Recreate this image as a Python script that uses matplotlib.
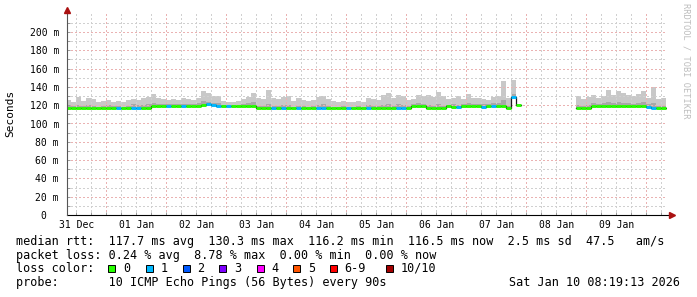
import numpy as np
import matplotlib
matplotlib.use('Agg')
import matplotlib.pyplot as plt
from matplotlib.patches import Rectangle
from matplotlib.transforms import blended_transform_factory

nan = np.nan

# ---------------- data (2-hour bins starting 31 Dec 08:00) ----------------
start_hour = 8          # hours after 31 Dec 00:00
bin_hours = 2

median_ms = [
    # 0-16
    116.6, 116.7, 116.6, 116.5, 116.6, 116.6, 116.4, 116.5, 116.6, 116.7,
    116.6, 116.5, 116.6, 116.8, 116.7, 116.6, 116.7,
    # 17-37
    119.5, 119.6, 119.5, 119.4, 119.5, 119.6, 119.5, 119.5, 119.4, 119.6,
    120.5, 121.5, 120.2, 119.6, 119.5, 119.5, 119.4, 119.5, 119.4, 119.6, 119.5,
    # 38-68
    116.6, 116.5, 116.7, 116.6, 116.5, 116.6, 116.7, 116.5, 116.6, 116.5,
    116.4, 116.5, 116.6, 116.9, 116.5, 116.4, 116.5, 116.6, 116.7, 116.5,
    116.4, 116.5, 116.6, 116.5, 116.7, 116.6, 116.5, 116.6, 117.0, 116.8, 116.6,
    # 69-90
    119.4, 119.5, 119.3, 116.7, 116.6, 116.5, 116.7, 118.6, 118.5, 117.5,
    119.0, 119.2, 119.1, 119.0, 118.4, 119.4, 119.5, 119.6, 119.5, 116.8,
    129.5, 120.2,
    # 91-101 (no data)
    nan, nan, nan, nan, nan, nan, nan, nan, nan, nan, nan,
    # 102-119
    116.5, 116.6, 116.7, 119.4, 119.5, 119.4, 119.5, 119.6, 119.5, 119.4,
    119.5, 119.5, 119.4, 119.3, 118.3, 116.9, 116.5, 116.4,
]

smoke_mid_ms = [
    119.5, 119.0, 120.5, 119.0, 120.0, 119.5, 118.5, 119.0, 120.0, 119.0,
    119.5, 118.5, 119.5, 121.0, 120.0, 120.5, 121.0,
    122.5, 121.5, 121.0, 121.0, 121.5, 121.0, 121.5, 121.0, 121.0, 122.0,
    124.5, 124.0, 122.5,
    122.0, 120.5, 119.5, 119.0, 119.5, 121.5, 122.0, 123.5, 119.5, 119.0,
    121.0, 119.5, 119.0, 120.0, 120.5, 118.5, 119.5, 119.0, 118.5, 119.0,
    120.0, 121.0, 119.5, 118.5, 118.5, 119.0, 118.5, 118.5, 119.0, 118.5,
    120.0, 119.5, 119.0, 120.5, 121.0, 119.5, 121.0, 120.5, 119.0, 121.5,
    122.0, 121.5, 120.0, 119.5, 121.0, 119.5, 120.5, 121.0, 120.0, 121.5,
    122.0, 121.5, 121.0, 121.0, 121.5, 122.5, 122.0, 126.0, 119.5, 132.0,
    121.5,
    nan, nan, nan, nan, nan, nan, nan, nan, nan, nan, nan,
    120.0, 119.0, 120.0, 122.0, 121.5, 122.0, 124.0, 122.0, 123.0, 122.5,
    122.0, 121.5, 122.5, 123.0, 121.0, 122.0, 119.0, 119.0,
]

smoke_max_ms = [
    126, 124, 129, 125, 128, 127, 123, 125, 126, 124,
    125, 123, 126, 127, 126, 128, 129,
    132, 128, 127, 126, 127, 126, 128, 127, 126, 128,
    135, 133, 130,
    130, 125, 124, 123, 125, 127, 129, 133, 128, 127,
    137, 128, 127, 129, 130, 125, 128, 126, 125, 126,
    129, 130, 127, 125, 124, 125, 123, 124, 125, 124,
    128, 127, 126, 131, 133, 128, 131, 130, 126, 127,
    131, 130, 131, 129, 134, 130, 127, 128, 130, 127,
    132, 128, 128, 127, 126, 129, 130, 146, 128, 147,
    126,
    nan, nan, nan, nan, nan, nan, nan, nan, nan, nan, nan,
    130, 127, 129, 131, 128, 130, 137, 131, 135, 133,
    131, 130, 132, 135, 128, 140, 127, 128,
]

# average lost pings (of 10) per bin
loss_pings = [
    0, 0, 0, 0, 0, 0, 0, 0, 0, 0,
    0.6, 0, 0, 0.7, 0.8, 0, 0,
    0, 0, 0, 0.5, 0, 0, 0.6, 0, 0, 0,
    0, 0.8, 0.6,
    0.5, 0, 0.6, 0, 0, 0, 0, 0, 0, 0,
    0, 0.6, 0, 0.7, 0, 0, 0.5, 0, 0, 0,
    0.6, 0.8, 0, 0, 0, 0, 0.5, 0, 0, 0,
    0.6, 0, 0, 0, 0, 0, 0.7, 0.8, 0, 0,
    0, 0, 0, 0, 0, 0, 0, 0, 0.5, 0,
    0, 0, 0, 0.6, 0, 0.5, 0, 0, 0, 0.9,
    0,
    0, 0, 0, 0, 0, 0, 0, 0, 0, 0, 0,
    0, 0, 0, 0, 0, 0, 0, 0, 0, 0,
    0, 0, 0, 0, 0.7, 0.6, 0, 0,
]

day_labels = ['31 Dec', '01 Jan', '02 Jan', '03 Jan', '04 Jan',
              '05 Jan', '06 Jan', '07 Jan', '08 Jan', '09 Jan']
y_tick_values = [0, 20, 40, 60, 80, 100, 120, 140, 160, 180, 200]
y_tick_labels = ['0  ', '20 m', '40 m', '60 m', '80 m', '100 m', '120 m',
                 '140 m', '160 m', '180 m', '200 m']

loss_legend_labels = ['0', '1', '2', '3', '4', '5', '6-9', '10/10']
loss_legend_colors = ['#26ff00', '#00b8ff', '#0059ff', '#7e00ff',
                      '#ff00ff', '#ff5500', '#ff0000', '#a10000']

stats_rtt = 'median rtt:  117.7 ms avg  130.3 ms max  116.2 ms min  116.5 ms now  2.5 ms sd  47.5   am/s'
stats_loss = 'packet loss: 0.24 % avg  8.78 % max  0.00 % min  0.00 % now'
probe_text = 'probe:       10 ICMP Echo Pings (56 Bytes) every 90s'
date_text = 'Sat Jan 10 08:19:13 2026'

# ---------------- figure ----------------
plt.rcParams['font.family'] = ['DejaVu Sans Mono']
W, H = 697, 297
fig = plt.figure(figsize=(W / 100, H / 100), dpi=100, facecolor='white')

ax_l, ax_r, ax_b, ax_t = 67, 667, 215, 13
ax = fig.add_axes([ax_l / W, 1 - ax_b / H, (ax_r - ax_l) / W, (ax_b - ax_t) / H])
ax.set_facecolor('white')

x_min, x_max = 8.32, 248.32
y_min, y_max = 0, (ax_b - ax_t) / 0.915
ax.set_xlim(x_min, x_max)
ax.set_ylim(y_min, y_max)

med = np.array(median_ms, dtype=float)
mid = np.array(smoke_mid_ms, dtype=float)
top = np.array(smoke_max_ms, dtype=float)
loss = np.array(loss_pings, dtype=float)
n = len(med)
edges = start_hour + bin_hours * np.arange(n + 1)

def ext(a):
    return np.append(a, a[-1])

# smoke
ax.fill_between(edges, ext(med), ext(top), step='post', color='#c8c8c8', lw=0, zorder=1)
ax.fill_between(edges, ext(med), ext(mid), step='post', color='#a8a8a8', lw=0, zorder=1.1)

# median: dark connectors then loss-coloured segments
ax.step(edges, ext(med), where='post', color='#1a1a1a', lw=0.9, zorder=3)

def loss_color(v):
    if v <= 0:
        return loss_legend_colors[0]
    if v <= 1:
        return loss_legend_colors[1]
    if v <= 2:
        return loss_legend_colors[2]
    if v <= 3:
        return loss_legend_colors[3]
    if v <= 4:
        return loss_legend_colors[4]
    if v <= 5:
        return loss_legend_colors[5]
    if v < 10:
        return loss_legend_colors[6]
    return loss_legend_colors[7]

cols = [loss_color(v) for v in loss]
valid = ~np.isnan(med)
ax.hlines(med[valid], edges[:-1][valid], edges[1:][valid],
          colors=[c for c, ok in zip(cols, valid) if ok], lw=2.1, zorder=3.5)

# grid
ax.set_xticks(np.arange(24, 241, 24))
ax.set_xticks([h for h in np.arange(12, 248, 6) if h % 24 != 0], minor=True)
ax.set_yticks(y_tick_values, labels=y_tick_labels)
ax.set_yticks(np.arange(10, 211, 20), minor=True)
ax.set_axisbelow(False)
ax.grid(which='major', color='#eab2b2', lw=0.75, ls=(0, (1, 2)), zorder=2.5,
        antialiased=False)
ax.grid(which='minor', color='#d0d0d0', lw=0.75, ls=(0, (1, 2)), zorder=2.4,
        antialiased=False)

ax.tick_params(axis='x', which='both', direction='in', length=2, width=0.7,
               color='#999999', labelbottom=False)
ax.tick_params(axis='y', which='both', direction='in', length=2, width=0.7,
               color='#999999', pad=5.8, labelsize=7)

for s in ax.spines.values():
    s.set_visible(False)

# axes lines with arrows
arrow_c = '#aa1111'
ax.plot([0, 1 + 5 / 600], [0, 0], transform=ax.transAxes, color='black',
        lw=0.8, clip_on=False, zorder=6)
ax.plot([1 + 5 / 600], [0], transform=ax.transAxes, marker='>', ms=4.5,
        color=arrow_c, clip_on=False, zorder=7)
ax.plot([0, 0], [0, 1 + 2 / 202], transform=ax.transAxes, color='#555555',
        lw=0.8, clip_on=False, zorder=6)
ax.plot([0], [1 + 3 / 202], transform=ax.transAxes, marker='^', ms=4.5,
        color=arrow_c, clip_on=False, zorder=7)

# x labels at noon of each day
tr = blended_transform_factory(ax.transData, fig.transFigure)
for i, lab in enumerate(day_labels):
    ax.text(12 + 24 * i, 1 - 225 / H, lab, transform=tr, ha='center',
            va='center', fontsize=7)

# axis title and watermark
fig.text(10.3 / W, 1 - 113 / H, 'Seconds', rotation=90, ha='center',
         va='center', fontsize=8)
fig.text(686 / W, 1 - 61 / H, 'RRDTOOL / TOBI OETIKER', rotation=270,
         ha='center', va='center', fontsize=6.2, color='#bdbdbd')

# legend / stats
fs = 8.5
fig.text(16 / W, 1 - 241.5 / H, stats_rtt, ha='left', va='center', fontsize=fs)
fig.text(16 / W, 1 - 255.2 / H, stats_loss, ha='left', va='center', fontsize=fs)
fig.text(16 / W, 1 - 268.4 / H, 'loss color:', ha='left', va='center', fontsize=fs)
fig.text(16 / W, 1 - 282.4 / H, probe_text, ha='left', va='center', fontsize=fs)
fig.text(680 / W, 1 - 282.4 / H, date_text, ha='right', va='center', fontsize=fs)

sq_x = [108.3, 145.7, 182.7, 219.3, 256.7, 293.3, 330.0, 385.7]
for xs, c, lab in zip(sq_x, loss_legend_colors, loss_legend_labels):
    fig.patches.append(Rectangle((xs / W, 1 - 271.7 / H), 7 / W, 7 / H,
                                 transform=fig.transFigure, facecolor=c,
                                 edgecolor='black', lw=0.7))
    fig.text((xs + 14.5) / W, 1 - 268.4 / H, lab, ha='left', va='center',
             fontsize=fs)

fig.savefig('out.png', dpi=100, facecolor='white')
